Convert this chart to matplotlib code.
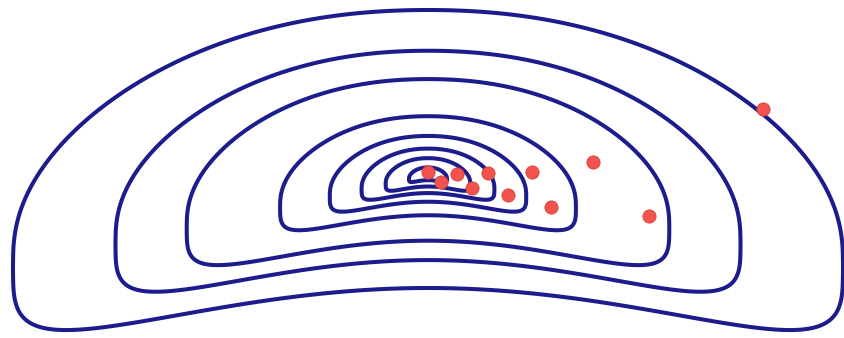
import numpy as np
import matplotlib.pyplot as plt

# contour levels of the cost surface (innermost first)
levels = [0.0021, 0.0104, 0.0256, 0.056, 0.127, 0.338, 0.567, 1.0]

# iterates of the descent path, from the starting guess to the minimum
path_x = [3.35, 2.21, 1.65, 1.23, 1.04, 0.80, 0.60, 0.44, 0.29, 0.13, 0.00]
path_y = [0.66, -0.41, 0.13, -0.32, 0.03, -0.20, 0.02, -0.13, 0.01, -0.07, 0.03]

# shape of the unit level set: a bent, lopsided arch around the minimum
half_width = 4.15
top_height = 1.65
bottom_depth = 1.13
bend = 0.052
p_top, p_bottom = 2.6, 3.6

s = np.linspace(-1, 1, 2001)
edge_x = half_width * s
w_top = top_height * (1 - np.abs(s)**p_top) ** (1 / p_top)
w_bot = -bottom_depth * (1 - np.abs(s)**p_bottom) ** (1 / p_bottom)
curve_x = np.concatenate([edge_x, edge_x[::-1]])
curve_y = np.concatenate([w_top, w_bot[::-1]]) - bend * curve_x**2
curve_t = np.arctan2(curve_y, curve_x)
curve_r = np.hypot(curve_x, curve_y)
order = np.argsort(curve_t)
curve_t, curve_r = curve_t[order], curve_r[order]


def cost(x, y):
    # the surface grows quadratically along every ray from the minimum
    ang = np.arctan2(y, x)
    reach = np.interp(ang, curve_t, curve_r, period=2 * np.pi)
    return (np.hypot(x, y) / reach) ** 2


xs = np.linspace(-4.4, 4.4, 1000)
ys = np.linspace(-1.8, 1.9, 500)
X, Y = np.meshgrid(xs, ys)
Z = cost(X, Y)

fig = plt.figure(figsize=(8.45, 3.38), dpi=100)
ax = fig.add_axes([0, 0, 1, 1])
ax.contour(X, Y, Z, levels=levels, colors='#1c1c8c', linewidths=2.9)
ax.plot(path_x, path_y, 'o', color='#f2534d', markersize=9.5,
        markeredgecolor='#d8403a', markeredgewidth=0.6, linestyle='none')
ax.set_xlim(-4.28, 4.17)
ax.set_ylim(-1.63, 1.75)
ax.axis('off')
fig.savefig('out.png', dpi=100, facecolor='white')
